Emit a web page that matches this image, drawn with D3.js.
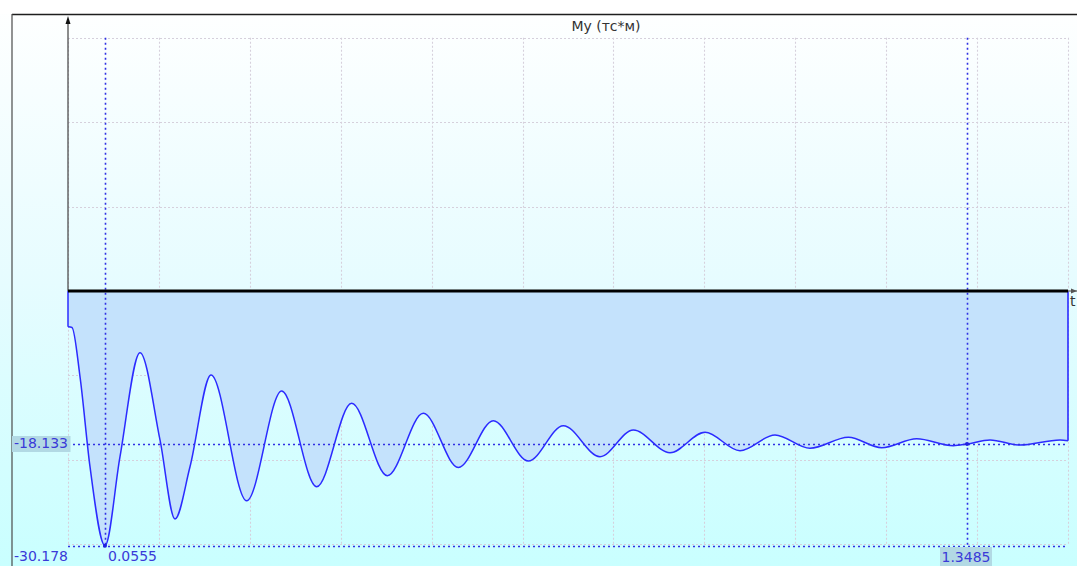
<!DOCTYPE html>
<html>
<head>
<meta charset="utf-8">
<script src="https://cdn.jsdelivr.net/npm/d3@7/dist/d3.min.js"></script>
<style>
  html, body { margin: 0; padding: 0; background: #ffffff; }
  svg { display: block; }
  text { font-family: "DejaVu Sans", sans-serif; }
</style>
</head>
<body>
<svg id="chart" width="1077" height="566"></svg>
<script>
// Bending moment My over time t
const timeSec = [0, 0.006, 0.018, 0.033, 0.0555, 0.078, 0.108, 0.138, 0.1605, 0.183, 0.2145,
  0.268, 0.3205, 0.373, 0.4255, 0.479, 0.533, 0.5855, 0.638, 0.6905, 0.743, 0.798, 0.848,
  0.903, 0.9555, 1.008, 1.0605, 1.113, 1.1705, 1.2205, 1.273, 1.328, 1.3485, 1.383, 1.428,
  1.488, 1.5];
const momentMy = [-4.23, -4.32, -10.15, -20.82, -30.178, -19.63, -7.31, -17.65, -27.01, -20.82, -9.95,
  -24.85, -11.85, -23.19, -13.31, -21.88, -14.49, -20.91, -15.37, -20.14, -15.96, -19.63, -16.47,
  -19.16, -16.74, -18.92, -17.06, -18.64, -17.33, -18.57, -17.50, -18.33, -18.133, -17.65, -18.25,
  -17.65, -17.74];

// Cursor readouts (time, value)
const cursorTime = [0.0555, 1.3485];
const cursorValue = [-30.178, -18.133];

const chartTitle = "My (тс*м)";
const axisLabel = "t";

const tMax = 1.5;
const mAbs = 30.178;
const gridStepM = 10;
const gridDivT = 11;

const svg = d3.select("#chart");
const W = 1077, H = 566;

const x = d3.scaleLinear().domain([0, tMax]).range([68, 1068]);
const y = d3.scaleLinear().domain([-mAbs, mAbs]).range([545.7, 36.3]);

// Background gradient
const defs = svg.append("defs");
const grad = defs.append("linearGradient").attr("id", "bg").attr("x1", 0).attr("y1", 0).attr("x2", 0).attr("y2", 1);
grad.append("stop").attr("offset", "0%").attr("stop-color", "#ffffff");
grad.append("stop").attr("offset", "50%").attr("stop-color", "#e6fcff");
grad.append("stop").attr("offset", "100%").attr("stop-color", "#c9ffff");
svg.append("rect").attr("x", 0).attr("y", 0).attr("width", W).attr("height", H).attr("fill", "url(#bg)");
svg.append("rect").attr("x", 0).attr("y", 0).attr("width", W).attr("height", 14).attr("fill", "#ffffff");

// Frame
svg.append("line").attr("x1", 12).attr("x2", W).attr("y1", 14.5).attr("y2", 14.5)
  .attr("stroke", "#1e1e1e").attr("stroke-width", 1.4);
svg.append("line").attr("x1", 12).attr("x2", 12).attr("y1", 14).attr("y2", H)
  .attr("stroke", "#4a4a4a").attr("stroke-width", 1.2);

// Grid
const hTicks = d3.range(-30, 31, gridStepM);
const vTicks = d3.range(gridDivT + 1).map(i => i * tMax / gridDivT);
const grid = svg.append("g").attr("stroke", "#d6d0dc").attr("stroke-width", 1.1).attr("stroke-dasharray", "2,2");
grid.selectAll("line.h").data(hTicks).join("line").attr("class", "h")
  .attr("x1", x(0)).attr("x2", x(tMax))
  .attr("y1", d => Math.round(y(d)) + 0.5).attr("y2", d => Math.round(y(d)) + 0.5);
grid.selectAll("line.v").data(vTicks).join("line").attr("class", "v")
  .attr("x1", d => Math.round(x(d)) + 0.5).attr("x2", d => Math.round(x(d)) + 0.5)
  .attr("y1", y(30)).attr("y2", y(-mAbs));

// Area between zero and the curve
const pts = timeSec.map((t, i) => [t, momentMy[i]]);
const area = d3.area().x(d => x(d[0])).y0(y(0)).y1(d => y(d[1])).curve(d3.curveMonotoneX);
svg.append("path").datum(pts).attr("d", area).attr("fill", "#c4e2fc");

// Curve outline with vertical end segments
const lineColor = "#2b2bff";
const line = d3.line().x(d => x(d[0])).y(d => y(d[1])).curve(d3.curveMonotoneX);
svg.append("path").datum(pts).attr("d", line)
  .attr("fill", "none").attr("stroke", lineColor).attr("stroke-width", 1.5);
svg.append("line").attr("x1", x(0)).attr("x2", x(0)).attr("y1", y(0)).attr("y2", y(momentMy[0]))
  .attr("stroke", lineColor).attr("stroke-width", 1.5);
svg.append("line").attr("x1", x(tMax)).attr("x2", x(tMax)).attr("y1", y(0)).attr("y2", y(momentMy[momentMy.length - 1]))
  .attr("stroke", lineColor).attr("stroke-width", 1.6);

// Cursor lines
const cur = svg.append("g").attr("stroke", "#3030e4").attr("stroke-width", 1.6).attr("stroke-dasharray", "2,3");
cursorTime.forEach(t => {
  cur.append("line").attr("x1", Math.round(x(t)) + 0.5).attr("x2", Math.round(x(t)) + 0.5)
    .attr("y1", y(30)).attr("y2", y(-mAbs));
});
cursorValue.forEach(v => {
  cur.append("line").attr("x1", x(0)).attr("x2", x(tMax))
    .attr("y1", Math.round(y(v)) + 0.5).attr("y2", Math.round(y(v)) + 0.5);
});
cursorTime.forEach((t, i) => {
  svg.append("circle").attr("cx", x(t)).attr("cy", y(cursorValue[i])).attr("r", 2).attr("fill", "#2020e0");
});

// Axes
svg.append("line").attr("x1", x(0)).attr("x2", x(0)).attr("y1", 20).attr("y2", y(0))
  .attr("stroke", "#505050").attr("stroke-width", 1.3);
svg.append("path").attr("d", `M${x(0)},16 L${x(0) - 2.5},24 L${x(0) + 2.5},24 Z`).attr("fill", "#111");
svg.append("line").attr("x1", x(tMax)).attr("x2", W).attr("y1", y(0)).attr("y2", y(0))
  .attr("stroke", "#707070").attr("stroke-width", 1.3);
svg.append("path").attr("d", `M${W},${y(0)} L${W - 6},${y(0) - 2.5} L${W - 6},${y(0) + 2.5} Z`).attr("fill", "#555");
svg.append("line").attr("x1", x(0)).attr("x2", x(tMax)).attr("y1", y(0)).attr("y2", y(0))
  .attr("stroke", "#000").attr("stroke-width", 3);

svg.append("text").attr("x", 1070).attr("y", 306).attr("font-size", 14).attr("fill", "#333").text(axisLabel);

// Title
svg.append("text").attr("x", 606).attr("y", 31).attr("text-anchor", "middle")
  .attr("font-size", 14).attr("fill", "#333").text(chartTitle);

// Readout labels (plain hyphen as minus)
const fmtV = d3.formatLocale({ decimal: ".", thousands: "", grouping: [3], currency: ["", ""], minus: "-" }).format(".3f");
const fmtT = d => String(d);
const labelColor = "#3a3ad8";
svg.append("rect").attr("x", 12).attr("y", 436).attr("width", 58.5).attr("height", 16).attr("fill", "#b2d9e4");
svg.append("text").attr("x", 68).attr("y", 448).attr("text-anchor", "end")
  .attr("font-size", 14).attr("fill", labelColor).text(fmtV(cursorValue[1]));
svg.append("text").attr("x", 68).attr("y", 561).attr("text-anchor", "end")
  .attr("font-size", 14).attr("fill", labelColor).text(fmtV(cursorValue[0]));
svg.append("text").attr("x", x(cursorTime[0]) + 3).attr("y", 561)
  .attr("font-size", 14).attr("fill", labelColor).text(fmtT(cursorTime[0]));
svg.append("rect").attr("x", 940).attr("y", 547).attr("width", 52).attr("height", 19).attr("fill", "#b2d9e4");
svg.append("text").attr("x", 966).attr("y", 561.5).attr("text-anchor", "middle")
  .attr("font-size", 14).attr("fill", labelColor).text(fmtT(cursorTime[1]));
</script>
</body>
</html>
